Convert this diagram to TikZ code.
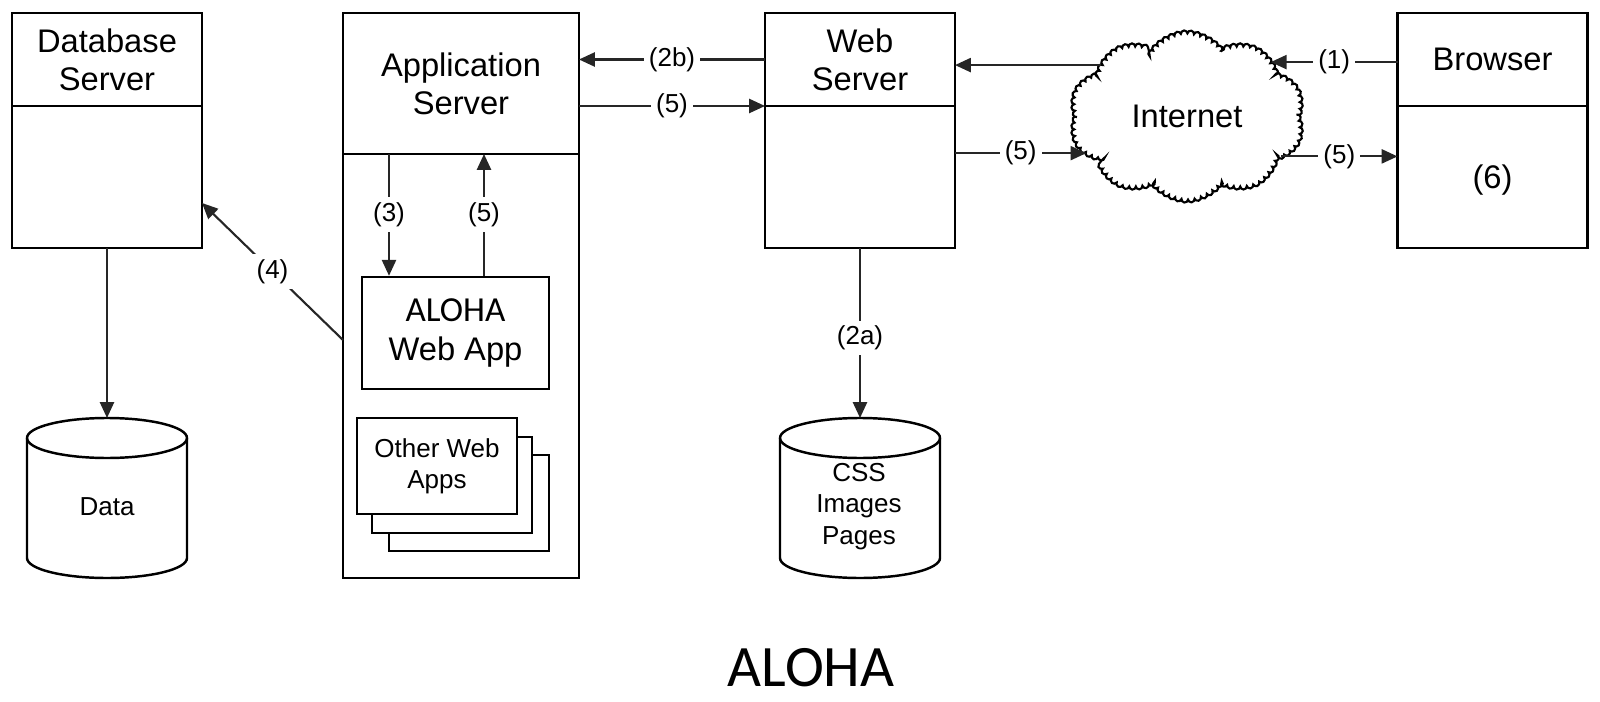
\documentclass[tikz,border=0pt]{standalone}
\usepackage{fontspec}
\setmainfont{Liberation Sans}
\newfontfamily\calibfont{Carlito}
\usetikzlibrary{arrows.meta, positioning}
\usetikzlibrary{shapes.symbols, decorations.pathmorphing}
\newcommand{\bigtxt}{\fontsize{9.3}{10.9}\selectfont}
\newcommand{\smalltxt}{\fontsize{7.4}{8.9}\selectfont}

\begin{document}
\begin{tikzpicture}[
  hdr/.style={draw, line width=0.7pt, outer sep=0pt, minimum width=1.9cm, minimum height=0.93cm, align=center, font=\bigtxt, inner sep=0pt},
  bdy/.style={draw, line width=0.7pt, outer sep=0pt, minimum width=1.9cm, minimum height=1.42cm, align=center, font=\bigtxt, inner sep=0pt},
  appbox/.style={draw, line width=0.7pt, minimum width=1.6cm, minimum height=0.96cm, fill=white, align=center, font=\smalltxt},
  cyl/.style={line width=0.7pt},
  dbtxt/.style={align=center, font=\smalltxt},
  arr/.style={-{Triangle[length=4.5pt,width=4pt]}, line width=0.6pt, black!85},
  lbl/.style={fill=white, inner sep=1.5pt, font=\smalltxt, text=black}
]
\useasboundingbox (0,0) rectangle (16,-7.02);

\node[hdr, anchor=north] (dbT) at (1.07,-0.13) {Database\\Server};
\node[bdy, below=0pt of dbT] (dbB) {};
\node[hdr, anchor=north, minimum width=2.36cm, minimum height=1.41cm] (appT) at (4.61,-0.13) {Application\\Server};
\node[bdy, below=0pt of appT, minimum width=2.36cm, minimum height=4.24cm] (appB) {};
\node[hdr, anchor=north] (webT) at (8.60,-0.13) {Web\\Server};
\node[bdy, below=0pt of webT] (webB) {};
\node[hdr, anchor=north] (brwT) at (14.925,-0.13) {Browser};
\node[bdy, below=0pt of brwT] (brwB) {};
\node[font=\bigtxt] (six) at (14.925,-1.80) {(6)};

\node[draw, line width=0.7pt, minimum width=1.87cm, minimum height=1.12cm, align=center, font=\bigtxt] (aloha) at (4.555,-3.33) {{\calibfont\fontsize{10}{12}\selectfont ALOHA}\\Web App};
\node[appbox] (oth3) at (4.69,-5.03) {};
\node[appbox] (oth2) at (4.52,-4.85) {};
\node[appbox] (oth1) at (4.37,-4.66) {Other Web\\Apps};

% storage cylinders
\foreach \x in {1.07,8.60}{
  \draw[cyl] (\x-0.8,-4.38) arc[start angle=180, end angle=0, x radius=0.8, y radius=0.2]
    -- (\x+0.8,-5.58) arc[start angle=0, end angle=-180, x radius=0.8, y radius=0.2] -- cycle;
  \draw[cyl] (\x-0.8,-4.38) arc[start angle=180, end angle=360, x radius=0.8, y radius=0.2];
}
\coordinate (dataTop) at (1.07,-4.18);
\coordinate (cssTop) at (8.60,-4.18);
\node[dbtxt] (data) at (1.07,-5.07) {Data};
\node[dbtxt] (css) at (8.59,-5.065) {CSS\\Images\\Pages};

\node[cloud, cloud puffs=10, cloud puff arc=110, cloud ignores aspect, minimum width=2.3cm, minimum height=1.65cm, draw, line width=0.6pt, decorate, decoration={bumps, mirror, segment length=0.13cm, amplitude=0.035cm}, font=\bigtxt] (inet) at (11.87,-1.165) {Internet};

\draw[arr] (dbB.south) -- (dataTop);
\draw[arr] (webB.south) -- node[lbl, pos=0.53]{(2a)} (cssTop);
\draw[arr] (webT.west) -- node[lbl]{(2b)} (webT.west -| appT.east);
\draw[arr] (appT.east |- webB.north) -- node[lbl]{(5)} (webB.north west);
\draw[arr] ([yshift=0.26cm]appB.west) -- node[lbl]{(4)} ([yshift=-0.26cm]dbB.east);

\coordinate (in3) at ([xshift=-0.665cm]aloha.north);
\coordinate (out5) at ([xshift=0.285cm]aloha.north);
\draw[arr] (in3 |- appT.south) -- node[lbl]{(3)} (in3);
\draw[arr] (out5) -- node[lbl]{(5)} (out5 |- appT.south);

\draw[arr] (inet.149) -- (inet.149 -| webT.east);
\draw[arr] (webB.east |- inet.200) -- node[lbl]{(5)} (inet.200);
\draw[arr] (brwT.west |- inet.33) -- node[lbl]{(1)} (inet.33);
\draw[arr] (inet.337) -- node[lbl]{(5)} (inet.337 -| brwB.west);

\node[font=\calibfont\fontsize{16.7}{20}\selectfont] (ttl) at (8.11,-6.68) {ALOHA};
\end{tikzpicture}
\end{document}
